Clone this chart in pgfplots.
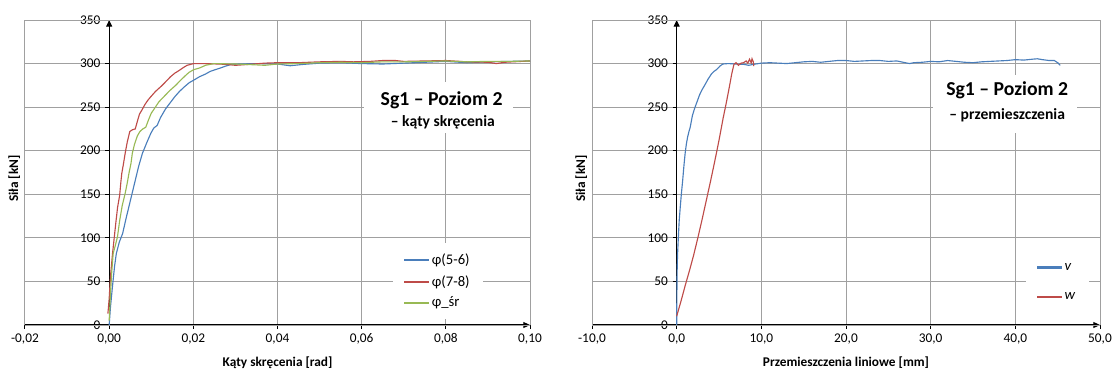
\documentclass[border=0pt]{standalone}
\usepackage{pgfplots}
\pgfplotsset{compat=1.18}
\usepackage{fontspec}
\setmainfont{Carlito}
\usetikzlibrary{arrows.meta}
\definecolor{sblue}{HTML}{4A7EBB}
\definecolor{sred}{HTML}{BE4B48}
\definecolor{sgreen}{HTML}{98B954}
\definecolor{gridc}{HTML}{A0A0A0}
\pgfplotsset{
  myaxis/.style={
    scale only axis,
    width=378.75pt, height=228.75pt,
    axis lines=middle,
    hide obscured x ticks=false,
    hide obscured y ticks=false,
    axis line style={black, line width=0.8pt, -{Triangle[length=5pt,width=4.5pt]}},
    ymin=0, ymax=350, ytick={0,50,...,350},
    grid=major,
    grid style={gridc, line width=0.75pt},
    tick align=outside,
    major tick length=3pt,
    tick style={black, line width=0.75pt},
    tick label style={font=\fontsize{10}{12}\selectfont},
    /pgf/number format/assume math mode=true,
    every axis x label/.style={at={(rel axis cs:0.5,0)}, anchor=center, yshift=-28.5pt, font=\fontsize{10}{12}\selectfont\bfseries},
    every axis y label/.style={at={(rel axis cs:0,0.48)}, anchor=center, xshift=-8pt, rotate=90, font=\fontsize{10}{12}\selectfont\bfseries},
    ylabel={Siła [kN]},
    legend cell align=left,
  },
  lb/.style={color=sblue, line width=0.85pt, legend image code/.code={\fill[sblue] (0pt,-0.42pt) rectangle (18pt,0.42pt);}},
  lr/.style={color=sred, line width=0.85pt, legend image code/.code={\fill[sred] (0pt,-0.42pt) rectangle (18pt,0.42pt);}},
  lg/.style={color=sgreen, line width=0.85pt, legend image code/.code={\fill[sgreen] (0pt,-0.42pt) rectangle (18pt,0.42pt);}},
}
\begin{document}
\begin{tikzpicture}
\useasboundingbox (-18.75pt,-35.25pt) rectangle (815.25pt,243.75pt);
\begin{axis}[myaxis,
  at={(0pt,0pt)}, anchor=south west,
  xmin=-0.02, xmax=0.10,
  xtick={-0.02,0,0.02,0.04,0.06,0.08,0.10},
  xticklabels={{-0,02},{0,00},{0,02},{0,04},{0,06},{0,08},{0,10}},
  xlabel={Kąty skręcenia [rad]},
  legend style={at={(0.729,0.269)}, anchor=north west, draw=none, fill=white,
    font=\fontsize{11}{12}\selectfont, row sep=2.5pt, inner xsep=8pt, inner ysep=6pt},
]
\draw[gridc, line width=0.75pt] (rel axis cs:0,0) rectangle (rel axis cs:1,1);
\fill[white] (axis cs:0.0605,278.9) rectangle (axis cs:0.0960,220.3);
\addplot[lb] coordinates {
(0,0) (0.0003,20) (0.0007,40) (0.00095,52) (0.0013,68) (0.0017,82) (0.0024,95)
(0.0032,105) (0.0040,122) (0.0047,136) (0.0055,152) (0.0062,166) (0.0070,182)
(0.0079,197) (0.0090,210) (0.0099,220) (0.0106,226) (0.0114,229) (0.0122,238)
(0.0134,248) (0.0145,255) (0.0156,262) (0.0167,268) (0.0178,273) (0.0190,278)
(0.0201,281) (0.0215,285) (0.0229,288) (0.0240,291) (0.0252,293) (0.0265,295)
(0.0276,297) (0.0290,299) (0.0308,299.5) (0.035,300) (0.040,299.5) (0.043,297.5)
(0.046,299) (0.050,300.5) (0.055,301) (0.060,300) (0.065,299.5) (0.070,300.5)
(0.075,301.5) (0.080,302.5) (0.085,301) (0.090,302) (0.095,302.5) (0.100,303)
};
\addlegendentry{φ(5-6)}
\addplot[lr] coordinates {
(-0.0003,13) (0.0000,30) (0.0003,55) (0.0008,82) (0.0012,100) (0.0016,118)
(0.0020,135) (0.0025,149) (0.0028,165) (0.0030,174) (0.0034,185) (0.0038,197)
(0.0043,210) (0.0049,222) (0.0055,224) (0.0062,225) (0.0066,232) (0.0072,242)
(0.0077,246) (0.0085,253) (0.0092,258) (0.0099,262) (0.0110,268) (0.0126,275)
(0.0136,280) (0.0146,285) (0.0156,289) (0.0166,292) (0.0175,295) (0.0185,298)
(0.0201,300) (0.022,300) (0.026,299.5) (0.028,299) (0.030,298) (0.033,299)
(0.037,300.5) (0.040,301) (0.045,301) (0.050,302) (0.055,302.5) (0.058,302)
(0.062,302.5) (0.065,303.5) (0.068,303.5) (0.070,302.5) (0.075,303) (0.080,303.5)
(0.085,302) (0.090,301.5) (0.092,300) (0.094,301.5) (0.096,302) (0.100,303)
};
\addlegendentry{φ(7-8)}
\addplot[lg] coordinates {
(0,5) (0.0003,35) (0.0006,60) (0.00095,82) (0.0015,92) (0.00197,101) (0.0025,120)
(0.0031,137) (0.0038,151) (0.0043,163) (0.0047,174) (0.0052,186) (0.0055,197)
(0.0060,207) (0.0067,217) (0.0073,222) (0.0080,225) (0.0087,227) (0.0094,236)
(0.0100,243) (0.0107,248) (0.0118,256) (0.0130,262) (0.0144,269) (0.0158,275)
(0.0170,281) (0.0183,287) (0.0190,290) (0.0201,293) (0.0215,295) (0.0229,298)
(0.0249,300) (0.030,299.5) (0.035,298.5) (0.037,298) (0.040,299.5) (0.045,300)
(0.050,301) (0.055,301.5) (0.060,301) (0.065,302) (0.070,302) (0.075,302.5)
(0.080,303) (0.085,302) (0.090,302.5) (0.095,302.5) (0.100,303)
};
\addlegendentry{φ\_śr}
\node[inner sep=0pt] at (axis cs:0.0790,258.2)
  {\fontsize{14.8}{17}\selectfont\bfseries Sg1 – Poziom 2};
\node[inner sep=0pt] at (axis cs:0.0793,233)
  {\fontsize{11.7}{14}\selectfont\bfseries – kąty skręcenia};
\end{axis}
\begin{axis}[myaxis,
  at={(425.25pt,0pt)}, anchor=south west,
  width=381pt,
  xmin=-10, xmax=50,
  xtick={-10,0,10,20,30,40,50},
  xticklabels={{-10,0},{0,0},{10,0},{20,0},{30,0},{40,0},{50,0}},
  xlabel={Przemieszczenia liniowe [mm]},
  legend style={at={(0.854,0.239)}, anchor=north west, draw=none, fill=white,
    font=\fontsize{11}{12}\selectfont, row sep=11.5pt, inner xsep=8pt, inner ysep=6pt},
]
\draw[gridc, line width=0.75pt] (rel axis cs:0,0) rectangle (rel axis cs:1,1);
\fill[white] (axis cs:30.3,286.9) rectangle (axis cs:47.3,220.3);
\addplot[lb] coordinates {
(0,0) (0.02,30) (0.05,60) (0.1,80) (0.2,101) (0.3,120) (0.43,136) (0.55,150)
(0.71,166) (0.85,182) (1.0,197) (1.15,208) (1.3,216) (1.45,222) (1.6,227)
(1.85,240) (2.1,248) (2.4,256) (2.7,264) (3.0,270) (3.3,275) (3.7,282) (4.1,288)
(4.4,291) (4.7,293) (5.1,297) (5.45,299.5) (6.1,300) (7.0,299.5) (8.0,299)
(8.5,298) (9.0,299) (10,300.5) (11,301) (12,300.5) (13,300) (14,301) (15,302)
(16,302.5) (17,301.5) (18,302.5) (19,303.5) (20,303.5) (21,302.5) (22,303)
(23,303.5) (24,303.5) (25,302.5) (26,303) (27,301) (27.5,300) (28,301) (29,301.5)
(30,302.5) (31,302) (32,303.5) (33,302.5) (34,301.5) (35,301) (36,302) (37,302.5)
(38,303) (39,303.5) (40,304.5) (41,304) (42,305) (42.6,305.5) (43.2,304.5)
(44,303.5) (44.6,303.5) (45.0,301) (45.3,298)
};
\addlegendentry{\textit{v}}
\addplot[lr] coordinates {
(0,10) (0.5,27) (1.0,45) (1.5,62) (2.0,80) (2.5,100) (3.0,121) (3.5,143)
(4.0,165) (4.5,188) (5.0,212) (5.5,238) (5.8,252) (6.2,272) (6.5,288) (6.76,299)
(7.0,301) (7.3,298) (7.6,300.5) (7.9,301) (8.2,303) (8.4,300.5) (8.6,305)
(8.8,301) (8.9,305.5) (9.05,302) (9.1,297)
};
\addlegendentry{\textit{w}}
\node[inner sep=0pt] at (axis cs:39.04,269.7)
  {\fontsize{14.8}{17}\selectfont\bfseries Sg1 – Poziom 2};
\node[inner sep=0pt] at (axis cs:39.04,241)
  {\fontsize{11.7}{14}\selectfont\bfseries – przemieszczenia};
\end{axis}
\end{tikzpicture}
\end{document}
